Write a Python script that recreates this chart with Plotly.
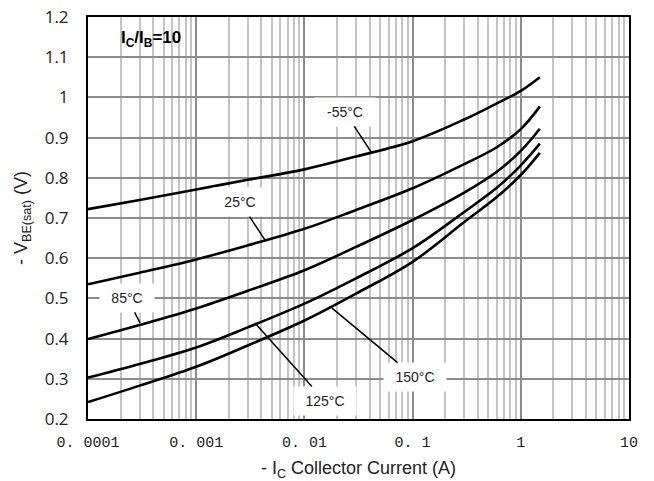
import math
import plotly.graph_objects as go

# Collector current (A)
ic = [0.0001, 0.0003, 0.001, 0.003, 0.01, 0.03, 0.1, 0.3, 0.6, 1.0, 1.5]

# -VBE(sat) (V) per temperature
v_m55 = [0.722, 0.745, 0.771, 0.795, 0.821, 0.853, 0.891, 0.945, 0.985, 1.016, 1.050]
v_25  = [0.535, 0.564, 0.597, 0.632, 0.673, 0.720, 0.774, 0.834, 0.876, 0.921, 0.977]
v_85  = [0.399, 0.434, 0.475, 0.519, 0.570, 0.628, 0.695, 0.763, 0.815, 0.867, 0.922]
v_125 = [0.303, 0.337, 0.378, 0.428, 0.487, 0.550, 0.625, 0.715, 0.775, 0.831, 0.885]
v_150 = [0.242, 0.283, 0.330, 0.383, 0.445, 0.512, 0.591, 0.690, 0.752, 0.807, 0.862]

series = [v_m55, v_25, v_85, v_125, v_150]

x_tickvals = [0.0001, 0.001, 0.01, 0.1, 1, 10]
x_ticktext = ["0. 0001", "0. 001", "0. 01", "0. 1", "1", "10"]
y_tickvals = [0.2, 0.3, 0.4, 0.5, 0.6, 0.7, 0.8, 0.9, 1.0, 1.1, 1.2]
y_ticktext = ["0.2", "0.3", "0.4", "0.5", "0.6", "0.7", "0.8", "0.9", "1", "1.1", "1.2"]

# label text, pointed curve position (current, voltage), text offset in px, box width
labels = [
    ("-55°C", 0.0419, 0.862, -27, -41, 56),
    ("25°C", 0.00433, 0.645, -25, -38, 50),
    ("85°C", 0.000303, 0.439, -13, -25, 50),
    ("125°C", 0.00349, 0.439, 70, 78, 58),
    ("150°C", 0.018, 0.476, 83, 69, 58),
]

fig = go.Figure()
for s in series:
    fig.add_trace(go.Scatter(
        x=ic, y=s, mode="lines",
        line=dict(color="black", width=2.6, shape="spline", smoothing=1.0),
        showlegend=False, hoverinfo="skip"))

annotations = []
for text, xi, yv, ax, ay, w in labels:
    annotations.append(dict(
        x=math.log10(xi), y=yv, xref="x", yref="y",
        text=text, showarrow=True, arrowhead=0, arrowwidth=1.5,
        arrowcolor="black", ax=ax, ay=ay,
        bgcolor="white", width=w, height=24, borderpad=2,
        font=dict(family="Liberation Sans, Arial", size=14, color="#222")))

annotations.append(dict(
    x=0.058, y=0.945, xref="paper", yref="paper", xanchor="left", yanchor="middle",
    text="<b>I<sub>C</sub>/I<sub>B</sub>=10</b>", showarrow=False,
    font=dict(family="Liberation Sans, Arial", size=17, color="black")))

fig.update_layout(
    width=654, height=481,
    margin=dict(l=88, r=25, t=17, b=62),
    paper_bgcolor="white", plot_bgcolor="white",
    annotations=annotations,
    xaxis=dict(
        type="log", range=[-4, 1], automargin=False,
        tickvals=x_tickvals, ticktext=x_ticktext, ticks="",
        ticklabelstandoff=8, ticklabeloverflow="allow",
        tickfont=dict(family="Liberation Mono", size=15, color="#222"),
        showgrid=True, gridcolor="#8c8c8c", gridwidth=2,
        minor=dict(dtick="D1", showgrid=True, gridcolor="#c4c4c4", gridwidth=2, ticks=""),
        showline=True, linecolor="black", linewidth=2, mirror=True,
        zeroline=False,
        title=dict(text="- I<sub>C</sub> Collector Current (A)", standoff=12,
                   font=dict(family="Liberation Sans, Arial", size=18, color="#222")),
    ),
    yaxis=dict(
        range=[0.2, 1.2], tickvals=y_tickvals, ticktext=y_ticktext, ticks="",
        automargin=False, ticklabelstandoff=14, ticklabeloverflow="allow",
        tickfont=dict(family="Open Sans", size=17, color="#222"),
        showgrid=True, gridcolor="#8c8c8c", gridwidth=2,
        showline=True, linecolor="black", linewidth=2, mirror=True,
        zeroline=False,
        title=dict(text="- V<sub>BE(sat)</sub> (V)", standoff=12,
                   font=dict(family="Liberation Sans, Arial", size=18, color="#222")),
    ),
)

# remove the browser's default 8px body margin so the figure sits at the page origin
fig.write_html("out.html", config={"displayModeBar": False},
               post_script="document.body.style.margin='0';")
